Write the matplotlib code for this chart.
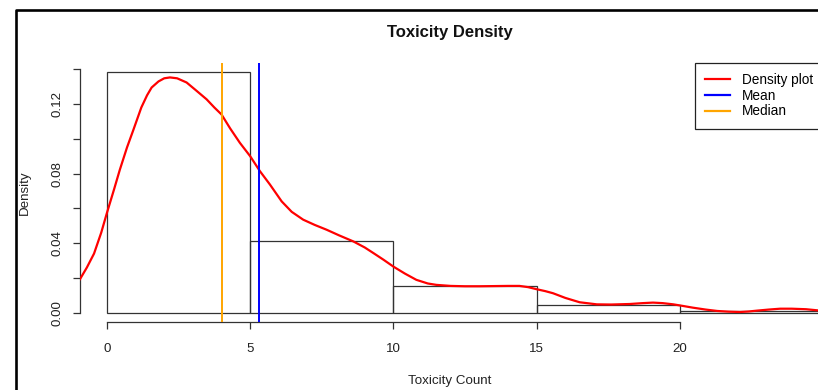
import matplotlib
matplotlib.use('Agg')
import matplotlib.pyplot as plt
from matplotlib.lines import Line2D

plt.rcParams['font.family'] = ['Liberation Sans', 'DejaVu Sans']

# histogram of toxicity counts (density scale, bins of width 5)
bin_edges = [0, 5, 10, 15, 20, 25]
bin_density = [0.1385, 0.0414, 0.0154, 0.0044, 0.0012]

# kernel density curve
dens_x = [-0.94, -0.7, -0.45, -0.2, 0.0, 0.25, 0.45, 0.7, 0.92, 1.2, 1.4,
          1.56, 1.8, 2.0, 2.2, 2.45, 2.78, 3.1, 3.48, 3.75, 4.0, 4.3, 4.64,
          5.0, 5.34, 5.69, 6.1, 6.45, 6.85, 7.25, 7.67, 8.1, 8.6, 9.0, 9.3,
          9.65, 10.0, 10.4, 10.8, 11.2, 11.5, 12.0, 12.5, 13.0, 13.5, 14.0,
          14.4, 14.7, 15.0, 15.3, 15.57, 16.0, 16.5, 17.1, 17.6, 18.25, 18.7,
          19.06, 19.4, 19.77, 20.1, 20.45, 20.9, 21.3, 21.7, 22.1, 22.4, 22.7,
          23.1, 23.5, 23.9, 24.4, 24.9]
dens_y = [0.0193, 0.026, 0.034, 0.046, 0.0574, 0.071, 0.0822, 0.095, 0.105,
          0.118, 0.125, 0.1295, 0.133, 0.1348, 0.1353, 0.1348, 0.1324, 0.128,
          0.1227, 0.118, 0.114, 0.106, 0.0977, 0.090, 0.0814, 0.0737, 0.064,
          0.058, 0.0535, 0.0505, 0.0477, 0.0445, 0.041, 0.0375, 0.0343, 0.0305,
          0.0265, 0.0225, 0.0189, 0.0168, 0.016, 0.0154, 0.0152, 0.0152,
          0.0153, 0.0154, 0.0154, 0.0147, 0.0135, 0.0124, 0.0112, 0.0085,
          0.006, 0.0048, 0.0047, 0.005, 0.0055, 0.0058, 0.0055, 0.0048, 0.0039,
          0.0029, 0.0018, 0.001, 0.0006, 0.0004, 0.0007, 0.0012, 0.0018,
          0.0023, 0.0023, 0.002, 0.0012]

mean_tox = 5.31
median_tox = 4.0

xticks = [0, 5, 10, 15, 20]
yticks = [0.00, 0.02, 0.04, 0.06, 0.08, 0.10, 0.12, 0.14]
ytick_labels = ['0.00', '', '0.04', '', '0.08', '', '0.12', '']

W, H = 818, 390
fig = plt.figure(figsize=(W / 100, H / 100), dpi=100)
fig.patch.set_facecolor('white')

# plot region in pixels: left 80, top 63, bottom 322, runs past right edge
ax = fig.add_axes([80 / W, 1 - 322 / H, 1 - 80 / W, (322 - 63) / H])
ax.set_xlim(-0.94, 24.82)
ax.set_ylim(-0.00535, 0.1436)

ax.bar(bin_edges[:-1], bin_density, width=5, align='edge', fill=False,
       edgecolor='#333333', linewidth=0.9, zorder=2)
ax.plot(dens_x, dens_y, color='#ff0000', linewidth=1.6, zorder=3,
        solid_joinstyle='round')
ax.axvline(mean_tox, color='#0000ff', linewidth=1.4, zorder=4)
ax.axvline(median_tox, color='#ffa500', linewidth=1.4, zorder=4)

for side in ['top', 'right']:
    ax.spines[side].set_visible(False)
for side in ['left', 'bottom']:
    ax.spines[side].set_color('#333333')
    ax.spines[side].set_linewidth(0.9)
ax.spines['left'].set_bounds(0, 0.14)
ax.spines['bottom'].set_bounds(0, 20)

ax.set_xticks(xticks)
ax.set_yticks(yticks)
ax.set_yticklabels(ytick_labels, rotation=90, va='center')
ax.tick_params(axis='both', direction='out', length=5, width=0.9,
               color='#333333', labelsize=9.6, labelcolor='#222222')
ax.tick_params(axis='x', pad=10)
ax.tick_params(axis='y', pad=7)

ax.set_xlabel('Toxicity Count', fontsize=9.6, color='#222222')
ax.set_ylabel('Density', fontsize=9.6, color='#222222')
ax.xaxis.set_label_coords(370 / 738, (322 - 381) / 259)
ax.yaxis.set_label_coords((25 - 80) / 738, 0.5)
ax.xaxis.label.set_va('center')
ax.yaxis.label.set_va('center')

fig.text(450 / W, 1 - 32 / H, 'Toxicity Density', ha='center', va='center',
         fontsize=12, fontweight='bold', color='#111111')

handles = [Line2D([], [], color='#ff0000', linewidth=1.6),
           Line2D([], [], color='#0000ff', linewidth=1.6),
           Line2D([], [], color='#ffa500', linewidth=1.6)]
leg = ax.legend(handles, ['Density plot', 'Mean', 'Median'],
                loc='upper left', bbox_to_anchor=(695 / W, 1 - 63 / H),
                bbox_transform=fig.transFigure, borderaxespad=0,
                fontsize=9.8, frameon=True, fancybox=False, framealpha=1,
                edgecolor='#222222', borderpad=0.75, handlelength=1.8,
                handletextpad=0.9, labelspacing=0.12)
leg.get_frame().set_linewidth(0.9)

# screenshot border, top and left
fig.add_artist(Line2D([15.5 / W, 15.5 / W, 1], [0, 1 - 9.5 / H, 1 - 9.5 / H],
                      transform=fig.transFigure, color='black', linewidth=1.9))

fig.savefig('out.png', dpi=100)
